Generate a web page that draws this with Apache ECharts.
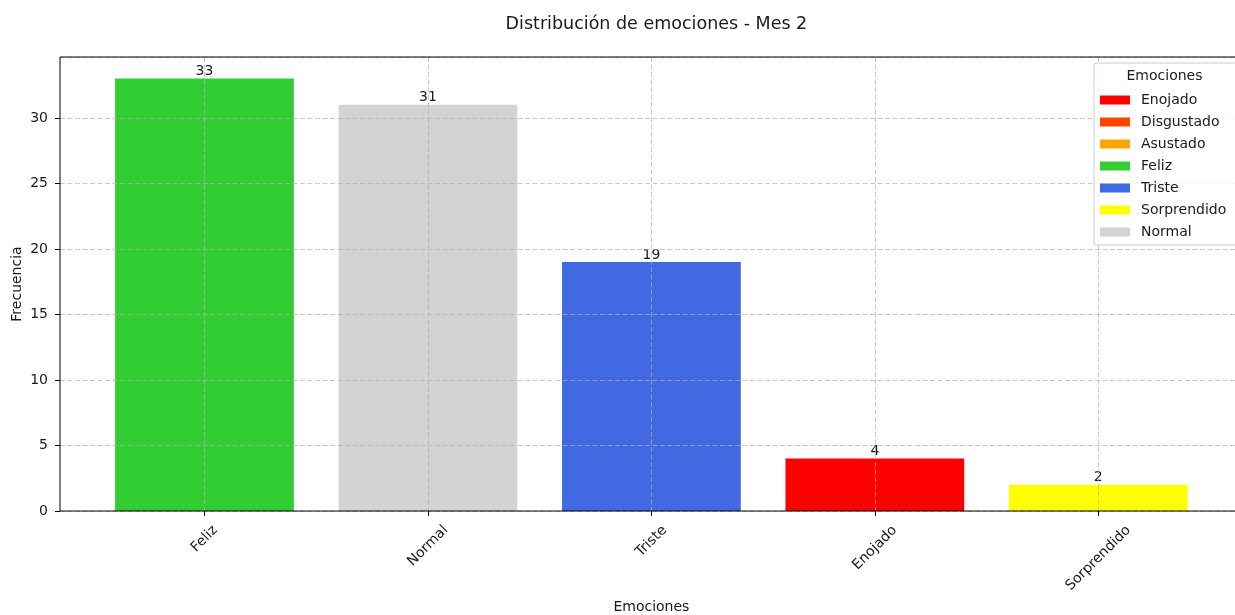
<!DOCTYPE html>
<html>
<head>
<meta charset="utf-8">
<script src="https://cdn.jsdelivr.net/npm/echarts@6/dist/echarts.min.js"></script>
<style>
html,body{margin:0;padding:0;background:#fff;}
#chart{width:1235px;height:615px;}
</style>
</head>
<body>
<div id="chart"></div>
<script>
// ---- data ----
const categories = ['Feliz', 'Normal', 'Triste', 'Enojado', 'Sorprendido'];
const frequencies = [33, 31, 19, 4, 2];
const legendNames = ['Enojado', 'Disgustado', 'Asustado', 'Feliz', 'Triste', 'Sorprendido', 'Normal'];
const legendColors = ['#FF0000', '#FF4500', '#FFA500', '#32CD32', '#4169E1', '#FFFF00', '#D3D3D3'];
const yTickInterval = 5;
const titleText = 'Distribución de emociones - Mes 2';
const xAxisTitle = 'Emociones';
const yAxisTitle = 'Frecuencia';
const legendTitle = 'Emociones';

// ---- layout ----
const FONT = 'DejaVu Sans';
const TXT = '#1a1a1a';
const GRIDLINE = 'rgba(176,176,176,0.7)';
const yMax = Math.max(...frequencies) * 1.05;
const W = 1235, H = 615;
const plotLeft = 60, plotRightEdge = 1242, plotTop = 57, plotBottomY = 511;
const firstCenter = 204.5, lastCenter = 1098.3;
const bLeft = firstCenter;
const bRight = W - lastCenter;

// rotated label padding so that each label is centred like matplotlib's ha='center'
const ctx = document.createElement('canvas').getContext('2d');
ctx.font = '14px "' + FONT + '"';
const rich = {};
categories.forEach((c, i) => {
  const L = ctx.measureText(c).width;
  const p = L / 2;
  rich['r' + i] = { padding: [p, p, 0, 0], fontSize: 14, fontFamily: FONT, color: TXT, lineHeight: 15 };
});

const series = legendNames.map((name, k) => ({
  name: name,
  type: 'bar',
  xAxisIndex: 1,
  yAxisIndex: 1,
  stack: 'total',
  barWidth: '80%',
  clip: false,
  z: 1,
  itemStyle: { color: legendColors[k] },
  label: {
    show: true,
    position: 'top',
    distance: 0,
    fontSize: 14,
    fontFamily: FONT,
    color: TXT,
    formatter: (p) => String(p.value)
  },
  data: categories.map((c, i) => (c === name ? frequencies[i] : '-'))
}));

const chart = echarts.init(document.getElementById('chart'), null, { renderer: 'canvas' });
chart.setOption({
  animation: false,
  backgroundColor: '#fff',
  textStyle: { fontFamily: FONT },
  title: {
    text: titleText,
    left: (firstCenter + lastCenter) / 2,
    textAlign: 'center',
    top: 10,
    textStyle: { fontFamily: FONT, fontSize: 17.5, fontWeight: 'normal', color: TXT }
  },
  grid: [
    { left: plotLeft, right: W - plotRightEdge, top: plotTop, bottom: H - plotBottomY,
      show: true, borderColor: '#000', borderWidth: 1, backgroundColor: 'transparent',
      z: 4, outerBoundsMode: 'none', containLabel: false },
    { left: bLeft, right: bRight, top: plotTop, bottom: H - plotBottomY,
      outerBoundsMode: 'none', containLabel: false }
  ],
  xAxis: [
    { gridIndex: 0, type: 'value', min: 0, max: 1, show: false },
    {
      gridIndex: 1, type: 'category', data: categories, boundaryGap: false, z: 3,
      name: xAxisTitle, nameLocation: 'middle', nameGap: 89, nameMoveOverlap: false,
      nameTextStyle: { fontFamily: FONT, fontSize: 14, color: TXT },
      axisLine: { show: false },
      axisTick: { show: true, length: 5, lineStyle: { color: '#000', width: 1 } },
      axisLabel: {
        interval: 0, rotate: 45, margin: 17, align: 'center', verticalAlign: 'middle',
        hideOverlap: false,
        formatter: (v, i) => '{r' + i + '|' + v + '}',
        rich: rich
      },
      splitLine: { show: true, lineStyle: { color: GRIDLINE, type: [5, 2.5], width: 1 } }
    }
  ],
  yAxis: [
    {
      gridIndex: 0, type: 'value', min: 0, max: yMax, interval: yTickInterval, z: 3,
      name: yAxisTitle, nameLocation: 'middle', nameRotate: 90, nameGap: 36, nameMoveOverlap: false,
      nameTextStyle: { fontFamily: FONT, fontSize: 14, color: TXT },
      axisLine: { show: false },
      axisTick: { show: true, length: 5, lineStyle: { color: '#000', width: 1 } },
      axisLabel: { margin: 12, fontSize: 14, fontFamily: FONT, color: TXT, showMaxLabel: false },
      splitLine: { show: true, lineStyle: { color: GRIDLINE, type: [5, 2.5], width: 1 } }
    },
    { gridIndex: 1, type: 'value', min: 0, max: yMax, show: false }
  ],
  legend: {
    orient: 'vertical',
    left: 1094,
    top: 63,
    icon: 'rect',
    itemWidth: 30,
    itemHeight: 9,
    itemGap: 8,
    padding: [30, 60, 6, 6],
    borderColor: '#cccccc',
    borderWidth: 1,
    borderRadius: 3,
    backgroundColor: 'rgba(255,255,255,0.8)',
    selectedMode: false,
    z: 6,
    data: legendNames,
    textStyle: { fontFamily: FONT, fontSize: 14, color: TXT, lineHeight: 14, padding: [0, 0, 0, 6] }
  },
  graphic: [{
    type: 'text',
    x: 1164.5,
    y: 76,
    z: 100,
    style: { text: legendTitle, fontFamily: FONT, fontSize: 14, fill: TXT, align: 'center', verticalAlign: 'middle' }
  }],
  series: series
});
</script>
</body>
</html>
